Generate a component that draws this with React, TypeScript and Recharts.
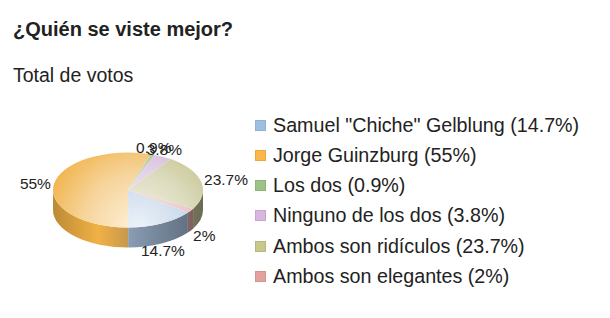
import { PieChart, Pie } from "recharts";

const categories = [
  'Samuel "Chiche" Gelblung',
  "Jorge Guinzburg",
  "Los dos",
  "Ninguno de los dos",
  "Ambos son ridículos",
  "Ambos son elegantes",
];
const votes = [14.7, 55, 0.9, 3.8, 23.7, 2];
const colors = ["#9fbfe2", "#fbb848", "#9cc285", "#d8b6e0", "#c8c78c", "#e3a29d"];

const data = categories.map((name, i) => ({ name, value: votes[i] }));

const CX = 128;
const CY = 190;
const RX = 75;
const TILT = 0.5; // ry = rx * TILT
const DEPTH = 20;
const RAD = Math.PI / 180;
const FONT = "'Liberation Sans', Arial, sans-serif";

type RGB = number[];
const toRgb = (hex: string): RGB => {
  const n = parseInt(hex.slice(1), 16);
  return [(n >> 16) & 255, (n >> 8) & 255, n & 255];
};
const mixRgb = (c: RGB, target: number, t: number): RGB => c.map((v) => v + (target - v) * t);
const css = (c: RGB) => `rgb(${c.map((v) => Math.round(v)).join(",")})`;

// shade: grey toward mid-grey by g, then lighten (l > 0) or darken (l < 0)
function shade(hex: string, g: number, l: number) {
  let c = mixRgb(toRgb(hex), 128, g);
  c = l >= 0 ? mixRgb(c, 255, l) : mixRgb(c, 0, -l);
  return css(c);
}

function pt(cx: number, cy: number, rx: number, ry: number, a: number) {
  return [cx + rx * Math.cos(a * RAD), cy - ry * Math.sin(a * RAD)];
}

function topPath(cx: number, cy: number, rx: number, ry: number, s: number, e: number) {
  const [x1, y1] = pt(cx, cy, rx, ry, s);
  const [x2, y2] = pt(cx, cy, rx, ry, e);
  const large = Math.abs(s - e) > 180 ? 1 : 0;
  const sweep = e < s ? 1 : 0;
  return `M${cx},${cy} L${x1},${y1} A${rx},${ry} 0 ${large} ${sweep} ${x2},${y2} Z`;
}

// outer wall: only the front half of the ellipse (sin <= 0) is visible
function wallPaths(cx: number, cy: number, rx: number, ry: number, s: number, e: number) {
  const hi = Math.max(s, e);
  const lo = Math.min(s, e);
  const out: string[] = [];
  for (let k = -2; k <= 2; k++) {
    const a = Math.max(lo, k * 360 - 180);
    const b = Math.min(hi, k * 360);
    if (b - a > 0.01) {
      const [x1, y1] = pt(cx, cy, rx, ry, b);
      const [x2, y2] = pt(cx, cy, rx, ry, a);
      const large = b - a > 180 ? 1 : 0;
      out.push(
        `M${x1},${y1} A${rx},${ry} 0 ${large} 1 ${x2},${y2} L${x2},${y2 + DEPTH} A${rx},${ry} 0 ${large} 0 ${x1},${y1 + DEPTH} Z`
      );
    }
  }
  return out;
}

const renderWall = (p: any) => {
  const paths = wallPaths(p.cx, p.cy, p.outerRadius, p.outerRadius * TILT, p.startAngle, p.endAngle);
  return (
    <g key={`wall-${p.index}`}>
      {paths.map((d, j) => (
        <path key={j} d={d} fill={`url(#wall${p.index})`} />
      ))}
    </g>
  );
};

const renderTop = (p: any) => (
  <path
    key={`top-${p.index}`}
    d={topPath(p.cx, p.cy, p.outerRadius, p.outerRadius * TILT, p.startAngle, p.endAngle)}
    fill={`url(#top${p.index})`}
  />
);

const renderPct = (p: any) => {
  const c = Math.cos(p.midAngle * RAD);
  const s = Math.sin(p.midAngle * RAD);
  const x = p.cx + (p.outerRadius + 3) * c;
  const y = p.cy - (p.outerRadius * TILT + 8) * s + (s < 0 ? DEPTH : 0);
  const anchor = c > 0.5 ? "start" : c < -0.5 ? "end" : "middle";
  return (
    <text
      key={`pct-${p.index}`}
      x={x}
      y={y}
      textAnchor={anchor}
      dominantBaseline="central"
      fontSize={15.5}
      fontFamily={FONT}
      fill="#222"
    >
      {`${votes[p.index]}%`}
    </text>
  );
};

const pieProps = {
  data,
  dataKey: "value",
  cx: CX,
  cy: CY,
  outerRadius: RX,
  startAngle: -37,
  endAngle: -397,
  fill: "none",
  stroke: "none",
  labelLine: false,
  isAnimationActive: false,
};

export default function App() {
  return (
    <div
      style={{
        position: "relative",
        width: 610,
        height: 318,
        margin: -8,
        background: "#fff",
        fontFamily: FONT,
        color: "#222",
        overflow: "hidden",
      }}
    >
      <div style={{ position: "absolute", left: 13, top: 19, fontSize: 20, lineHeight: "20px", fontWeight: 700 }}>
        ¿Quién se viste mejor?
      </div>
      <div style={{ position: "absolute", left: 13, top: 66, fontSize: 19.5, lineHeight: "19.5px" }}>
        Total de votos
      </div>

      <div style={{ position: "absolute", left: 0, top: 0 }}>
        <PieChart width={610} height={318} margin={{ top: 0, right: 0, bottom: 0, left: 0 }}>
          <defs>
            {colors.map((c, i) => (
              <radialGradient
                key={`t${i}`}
                id={`top${i}`}
                gradientUnits="userSpaceOnUse"
                cx={CX + 10}
                cy={CY + RX * TILT}
                r={RX * 1.3}
              >
                <stop offset="0" stopColor={shade(c, 0, 0.8)} />
                <stop offset="0.55" stopColor={shade(c, 0.1, 0.45)} />
                <stop offset="1" stopColor={shade(c, 0.08, 0)} />
              </radialGradient>
            ))}
            {colors.map((c, i) => (
              <linearGradient
                key={`w${i}`}
                id={`wall${i}`}
                gradientUnits="userSpaceOnUse"
                x1={CX - RX}
                y1={0}
                x2={CX + RX}
                y2={0}
              >
                <stop offset="0" stopColor={shade(c, 0, -0.25)} />
                <stop offset="0.3" stopColor={shade(c, 0, -0.04)} />
                <stop offset="0.55" stopColor={shade(c, 0.3, -0.12)} />
                <stop offset="1" stopColor={shade(c, 0.3, -0.4)} />
              </linearGradient>
            ))}
          </defs>
          <Pie {...pieProps} label={renderWall} />
          <Pie {...pieProps} label={renderTop} />
          <Pie {...pieProps} label={renderPct} />
        </PieChart>
      </div>

      {categories.map((name, i) => (
        <div
          key={name}
          style={{
            position: "absolute",
            left: 255,
            top: 110 + i * 30.3,
            height: 30,
            display: "flex",
            alignItems: "center",
            whiteSpace: "nowrap",
            fontSize: 19.7,
          }}
        >
          <span
            style={{
              display: "inline-block",
              width: 9,
              height: 9,
              background: colors[i],
              border: `1px solid ${shade(colors[i], 0, -0.08)}`,
              marginRight: 7,
            }}
          />
          <span>{`${name} (${votes[i]}%)`}</span>
        </div>
      ))}
    </div>
  );
}
